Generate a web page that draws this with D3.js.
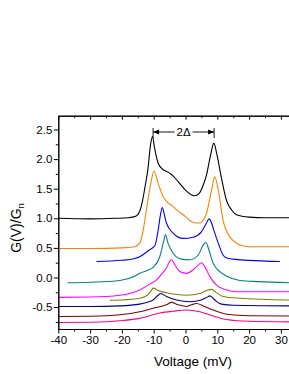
<!DOCTYPE html>
<html>
<head>
<meta charset="utf-8">
<script src="https://cdn.jsdelivr.net/npm/d3@7"></script>
<style>
  html, body { margin: 0; padding: 0; background: #fff; }
  svg { display: block; }
  text { font-family: "Liberation Sans", Arial, sans-serif; fill: #000; }
</style>
</head>
<body>
<div id="chart"></div>
<script>
// ---------- data ----------
const xTicksMajor = [-40, -30, -20, -10, 0, 10, 20, 30];
const xTicksMinor = [-35, -25, -15, -5, 5, 15, 25];
const yTicksMajor = [-0.5, 0.0, 0.5, 1.0, 1.5, 2.0, 2.5];
const yTicksMinor = [-0.75, -0.25, 0.25, 0.75, 1.25, 1.75, 2.25];
const xLabel = "Voltage (mV)";
const yLabelMain = "G(V)/G";
const yLabelSub = "n";
const gapLabel = "2\u0394";
const gapEnds = [-10.2, 9.0];

const seriesNames = ["black", "orange", "blue", "teal", "magenta", "olive", "navy", "wine", "pink"];
const seriesColors = ["#000000", "#FF8000", "#0000FF", "#008080", "#FF00FF", "#808000", "#000080", "#800000", "#FF0080"];

const curveBlack = [[-40,1.0],[-30,0.99],[-22,1.0],[-18,1.01],[-15.5,1.04],[-14.4,1.12],[-13.5,1.3],[-12.8,1.51],[-11.8,1.84],[-11,2.24],[-10.4,2.38],[-9.7,2.18],[-8.6,1.93],[-7,1.82],[-5.5,1.78],[-4.4,1.74],[-2.3,1.62],[0.3,1.46],[2.9,1.38],[4.3,1.42],[5.5,1.55],[6.6,1.73],[7.9,2.07],[8.9,2.27],[9.9,2.07],[11.3,1.68],[12.9,1.30],[14.5,1.14],[16,1.06],[20,1.02],[25,1.01],[33,1.01]];
const curveOrange = [[-40,0.49],[-30,0.49],[-20,0.5],[-16,0.52],[-14.4,0.58],[-13.3,0.8],[-12.3,1.14],[-10.7,1.65],[-9.9,1.80],[-8.6,1.59],[-7,1.36],[-5.5,1.26],[-4.4,1.22],[-2.5,1.13],[-0.75,1.06],[1,0.98],[2.4,0.93],[4.5,0.92],[5.7,0.98],[6.6,1.08],[8.2,1.48],[9.2,1.70],[10.3,1.48],[11.8,0.97],[13.9,0.69],[15.5,0.6],[17.1,0.55],[20.2,0.52],[33,0.52]];
const curveBlue = [[-28,0.27],[-20,0.29],[-16,0.32],[-14.4,0.35],[-11.5,0.46],[-9.6,0.54],[-8.6,0.80],[-7.9,1.05],[-7.3,1.18],[-6.6,1.05],[-6,0.92],[-3.9,0.75],[-0.75,0.66],[2.4,0.68],[5,0.77],[6.6,0.92],[7.4,0.99],[8.2,0.92],[8.9,0.80],[10.3,0.58],[11.8,0.38],[13,0.33],[15,0.31],[20,0.29],[29.7,0.27]];
const curveTeal = [[-37.1,-0.09],[-30,-0.08],[-20.6,-0.05],[-16,0.02],[-14.4,0.07],[-12,0.12],[-10.2,0.17],[-8.1,0.35],[-7,0.58],[-6.3,0.72],[-5.5,0.58],[-3.9,0.41],[-1.3,0.31],[1.4,0.30],[4,0.38],[5.6,0.55],[6.4,0.59],[7.4,0.46],[8.7,0.24],[10.8,0.10],[13,0.02],[17.1,-0.05],[23,-0.07],[33,-0.09]];
const curveMagenta = [[-40,-0.335],[-30,-0.33],[-20.6,-0.30],[-14.4,-0.21],[-11.5,-0.12],[-9.1,-0.04],[-7.5,0.06],[-6,0.16],[-4.9,0.28],[-4.4,0.30],[-3.3,0.21],[-1.8,0.10],[0.3,0.07],[2.4,0.13],[4,0.21],[5,0.25],[6.1,0.18],[7.7,0.01],[9.8,-0.13],[12.9,-0.21],[16,-0.24],[33,-0.24]];
const curveOlive = [[-23.8,-0.385],[-20.6,-0.38],[-14.4,-0.35],[-12,-0.30],[-11,-0.24],[-10.2,-0.18],[-8.6,-0.22],[-4.9,-0.27],[0.3,-0.30],[4.5,-0.27],[6.6,-0.22],[8.2,-0.20],[9.8,-0.26],[11.8,-0.32],[17.1,-0.35],[33,-0.38]];
const curveNavy = [[-40,-0.49],[-30,-0.49],[-20.6,-0.48],[-14.4,-0.45],[-11.5,-0.41],[-10.2,-0.38],[-8.6,-0.30],[-7.8,-0.27],[-6,-0.32],[-2.8,-0.38],[1.4,-0.41],[5,-0.38],[6.6,-0.34],[7.7,-0.31],[9.2,-0.38],[11.3,-0.45],[15,-0.47],[33,-0.48]];
const curveWine = [[-40,-0.66],[-30,-0.655],[-20.6,-0.63],[-14.4,-0.58],[-10.2,-0.52],[-6,-0.46],[-4.4,-0.42],[-2.3,-0.46],[0.3,-0.49],[1.9,-0.46],[3.5,-0.44],[5.6,-0.48],[8.7,-0.55],[12.9,-0.62],[20,-0.645],[33,-0.65]];
const curvePink = [[-40,-0.76],[-30,-0.755],[-20.6,-0.73],[-14.4,-0.69],[-8.1,-0.60],[-3.9,-0.57],[0.3,-0.55],[4.5,-0.58],[8.7,-0.65],[12.9,-0.71],[20,-0.74],[33,-0.75]];

const curves = [curveBlack, curveOrange, curveBlue, curveTeal, curveMagenta, curveOlive, curveNavy, curveWine, curvePink];

// ---------- layout ----------
const W = 289, H = 374;
const plot = { left: 58.3, right: 290, top: 115.7, bottom: 329 };

const x = d3.scaleLinear().domain([-40, 32.86]).range([plot.left, plot.right]);
const y = d3.scaleLinear().domain([-0.87, 2.733]).range([plot.bottom, plot.top]);

const svg = d3.select("#chart").append("svg")
  .attr("width", W).attr("height", H)
  .attr("viewBox", `0 0 ${W} ${H}`);

svg.append("rect").attr("width", W).attr("height", H).attr("fill", "#fff");

svg.append("defs").append("clipPath").attr("id", "clip")
  .append("rect")
  .attr("x", plot.left).attr("y", plot.top)
  .attr("width", plot.right - plot.left).attr("height", plot.bottom - plot.top);

// ---------- curves ----------
const line = d3.line()
  .x(d => x(d[0])).y(d => y(d[1]))
  .curve(d3.curveMonotoneX);

const g = svg.append("g").attr("clip-path", "url(#clip)");
curves.forEach((c, i) => {
  g.append("path")
    .datum(c)
    .attr("d", line)
    .attr("fill", "none")
    .attr("stroke", seriesColors[i])
    .attr("stroke-width", 1.1)
    .attr("stroke-linejoin", "round");
});

// ---------- axes ----------
const axisStyle = sel => {
  sel.select(".domain").attr("stroke", "#000").attr("stroke-width", 1);
  sel.selectAll(".tick line").attr("stroke", "#000").attr("stroke-width", 1);
  sel.selectAll(".tick text").attr("font-size", 11.5).attr("font-family", "Liberation Sans, Arial, sans-serif");
};

// bottom
svg.append("g").attr("transform", `translate(0,${plot.bottom})`)
  .call(d3.axisBottom(x).tickValues(xTicksMajor).tickSize(4.5).tickPadding(2.5).tickSizeOuter(0)
    .tickFormat(d => String(d)))
  .call(axisStyle);
svg.append("g").attr("transform", `translate(0,${plot.bottom})`)
  .call(d3.axisBottom(x).tickValues(xTicksMinor).tickSize(2.5).tickFormat("").tickSizeOuter(0))
  .call(axisStyle);

// top (inward ticks, no labels)
svg.append("g").attr("transform", `translate(0,${plot.top})`)
  .call(d3.axisBottom(x).tickValues(xTicksMajor).tickSize(4).tickFormat("").tickSizeOuter(0))
  .call(axisStyle);
svg.append("g").attr("transform", `translate(0,${plot.top})`)
  .call(d3.axisBottom(x).tickValues(xTicksMinor).tickSize(2.5).tickFormat("").tickSizeOuter(0))
  .call(axisStyle);

// left
svg.append("g").attr("transform", `translate(${plot.left},0)`)
  .call(d3.axisLeft(y).tickValues(yTicksMajor).tickSize(4.5).tickPadding(1.5).tickSizeOuter(0)
    .tickFormat(d => d.toFixed(1)))
  .call(axisStyle);
svg.append("g").attr("transform", `translate(${plot.left},0)`)
  .call(d3.axisLeft(y).tickValues(yTicksMinor).tickSize(2.5).tickFormat("").tickSizeOuter(0))
  .call(axisStyle);

// ---------- labels ----------
svg.append("text")
  .attr("x", 193).attr("y", 366)
  .attr("text-anchor", "middle")
  .attr("font-size", 13.5)
  .text(xLabel);

const yl = svg.append("text")
  .attr("transform", "translate(21,228) rotate(-90)")
  .attr("text-anchor", "middle")
  .attr("font-size", 14);
yl.append("tspan").text(yLabelMain);
yl.append("tspan").attr("font-size", 9.5).attr("dy", 3).text(yLabelSub);

// ---------- 2Δ annotation ----------
const ax1 = x(gapEnds[0]), ax2 = x(gapEnds[1]);
const ay = 132;
const ann = svg.append("g").attr("stroke", "#000").attr("stroke-width", 0.9);
ann.append("line").attr("x1", ax1).attr("x2", ax1).attr("y1", 128).attr("y2", 138);
ann.append("line").attr("x1", ax2).attr("x2", ax2).attr("y1", 128).attr("y2", 138);
const mid = (ax1 + ax2) / 2;
ann.append("line").attr("x1", ax1).attr("x2", mid - 9).attr("y1", ay).attr("y2", ay);
ann.append("line").attr("x1", mid + 9).attr("x2", ax2).attr("y1", ay).attr("y2", ay);
svg.append("path")
  .attr("d", `M${ax1},${ay} L${ax1 + 6},${ay - 2.5} L${ax1 + 6},${ay + 2.5} Z`)
  .attr("fill", "#000");
svg.append("path")
  .attr("d", `M${ax2},${ay} L${ax2 - 6},${ay - 2.5} L${ax2 - 6},${ay + 2.5} Z`)
  .attr("fill", "#000");
svg.append("text")
  .attr("x", mid).attr("y", ay + 4)
  .attr("text-anchor", "middle")
  .attr("font-size", 11.5)
  .text(gapLabel);
</script>
</body>
</html>
